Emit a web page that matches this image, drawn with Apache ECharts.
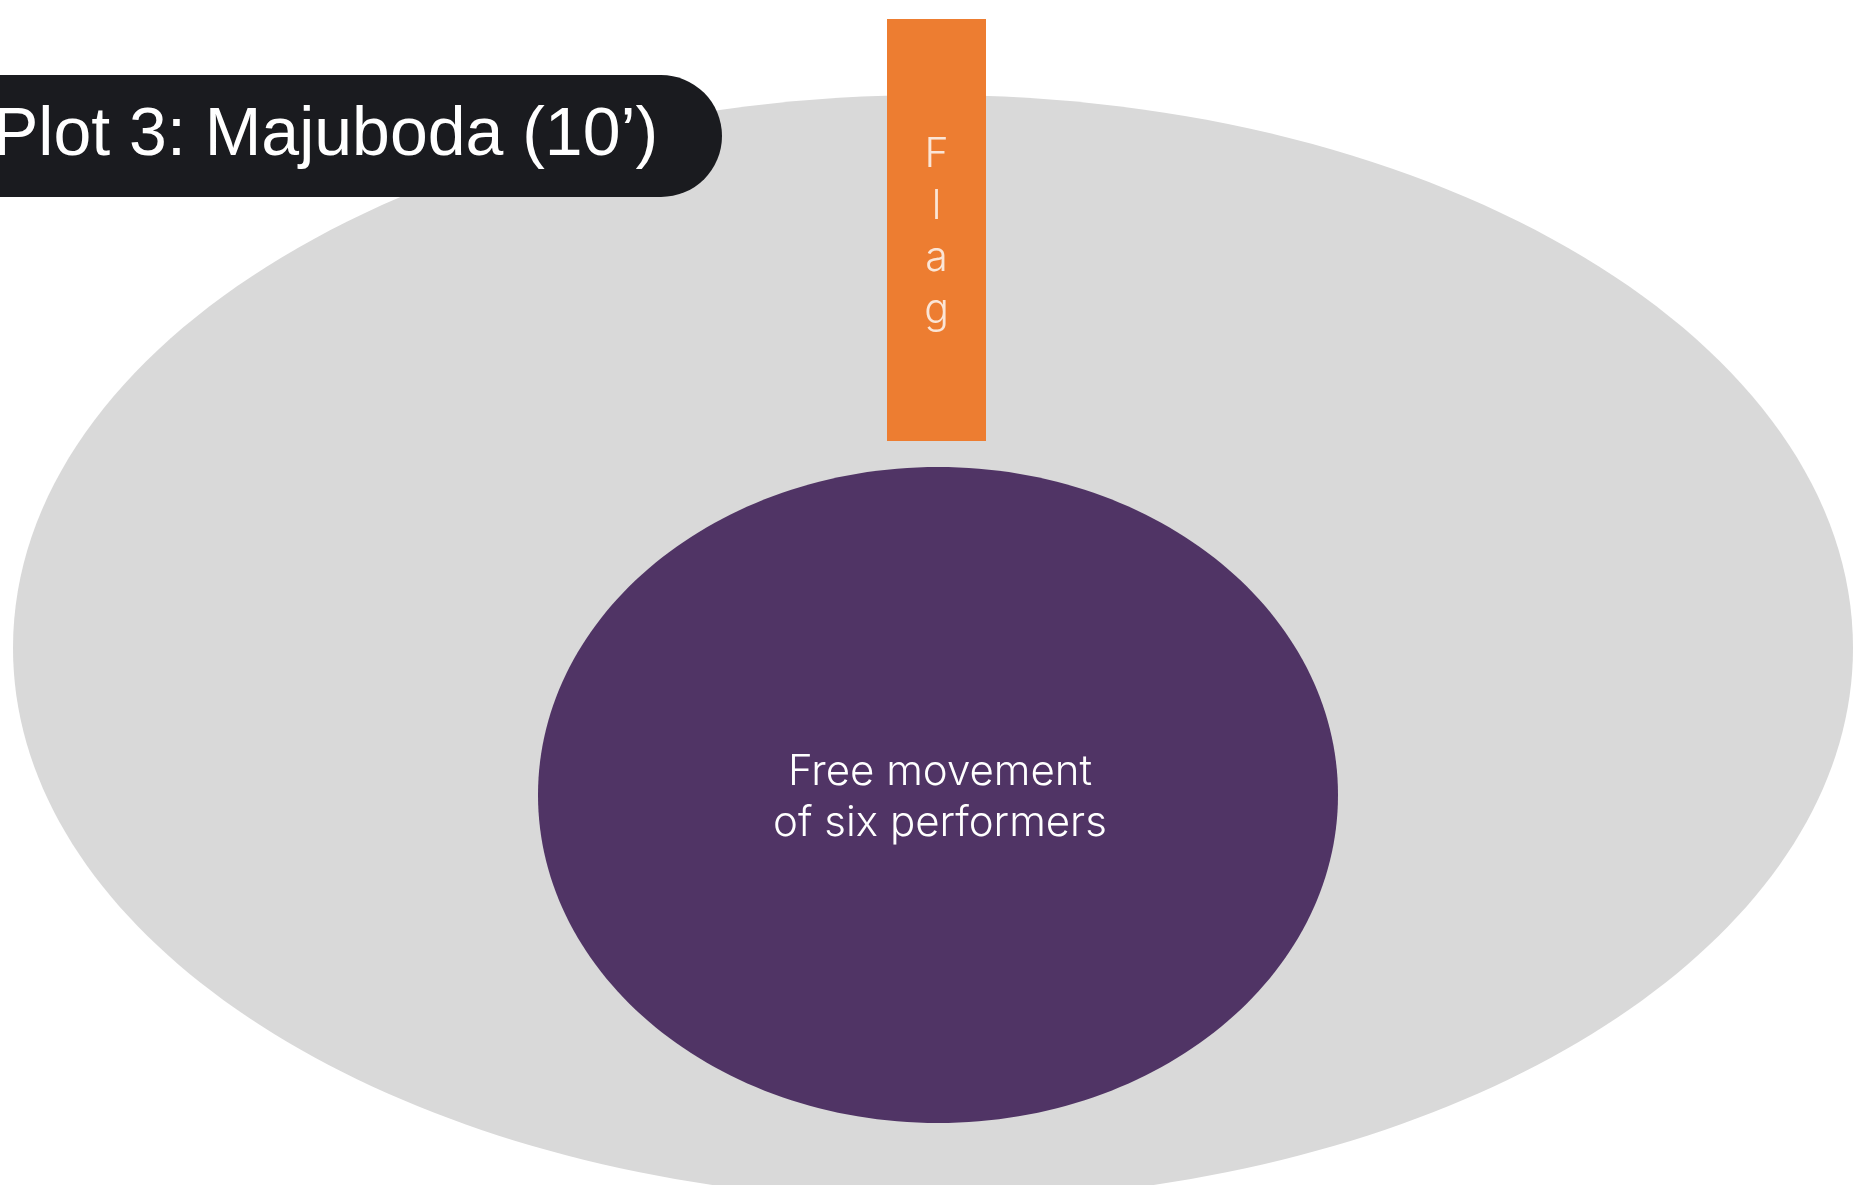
<!DOCTYPE html>
<html>
<head>
<meta charset="utf-8">
<script src="https://cdn.jsdelivr.net/npm/echarts@6/dist/echarts.min.js"></script>
<style>
  html, body { margin: 0; padding: 0; background: #ffffff; }
  #chart { width: 1855px; height: 1185px; }
</style>
</head>
<body>
<div id="chart"></div>
<script>
// ---- Diagram data (in plot units: x 0..1855, y 0..1185 from top) ----
const shapeNames = ['Stage', 'Performers', 'Flag', 'Title'];
const stageEllipse = [933, 648, 920, 553];       // cx, cy, rx, ry
const performerEllipse = [938, 795, 400, 328];   // cx, cy, rx, ry
const flagBox = [887, 19, 986, 441];             // x0, y0, x1, y1
const titleBox = [-80, 75, 722, 197];            // x0, y0, x1, y1
const titleText = 'Plot 3: Majuboda (10’)';
const flagLetters = ['F', 'l', 'a', 'g'];
const performerLines = ['Free movement', 'of six performers'];

const W = 1855, H = 1185;

const chart = echarts.init(document.getElementById('chart'), null, { renderer: 'canvas' });

function renderItem(params, api) {
  const i = params.dataIndex;
  if (i === 0 || i === 1) {
    const e = i === 0 ? stageEllipse : performerEllipse;
    const c = api.coord([e[0], e[1]]);
    const s = api.size([e[2], e[3]]);
    const children = [{
      type: 'ellipse',
      shape: { cx: c[0], cy: c[1], rx: s[0], ry: s[1] },
      style: { fill: i === 0 ? '#D9D9D9' : '#503465' }
    }];
    if (i === 1) {
      children.push({
        type: 'text',
        x: c[0] + 2, y: c[1] + 3,
        style: {
          text: performerLines.join('\n'),
          fill: '#FFFFFF',
          fontFamily: 'Inter, "Liberation Sans", sans-serif',
          fontWeight: 300,
          fontSize: 42,
          lineHeight: 51,
          align: 'center',
          verticalAlign: 'middle'
        }
      });
    }
    return { type: 'group', children: children };
  }
  if (i === 2) {
    const p0 = api.coord([flagBox[0], flagBox[1]]);
    const p1 = api.coord([flagBox[2], flagBox[3]]);
    return {
      type: 'group',
      children: [{
        type: 'rect',
        shape: { x: p0[0], y: p0[1], width: p1[0] - p0[0], height: p1[1] - p0[1] },
        style: { fill: '#ED7D31' }
      }, {
        type: 'text',
        x: (p0[0] + p1[0]) / 2,
        y: p0[1] + 214,
        style: {
          text: flagLetters.join('\n'),
          fill: '#FBE5D6',
          fontFamily: 'Inter, "Liberation Sans", sans-serif',
          fontWeight: 300,
          fontSize: 41,
          lineHeight: 52,
          align: 'center',
          verticalAlign: 'middle'
        }
      }]
    };
  }
  // title pill
  const q0 = api.coord([titleBox[0], titleBox[1]]);
  const q1 = api.coord([titleBox[2], titleBox[3]]);
  const h = q1[1] - q0[1];
  return {
    type: 'group',
    children: [{
      type: 'rect',
      shape: { x: q0[0], y: q0[1], width: q1[0] - q0[0], height: h, r: [0, h / 2, h / 2, 0] },
      style: { fill: '#1A1B1F' }
    }, {
      type: 'text',
      x: -7,
      y: q0[1] + h / 2,
      style: {
        text: titleText,
        fill: '#FFFFFF',
        fontFamily: '"Liberation Sans", Arial, sans-serif',
        fontSize: 68,
        align: 'left',
        verticalAlign: 'middle'
      }
    }]
  };
}

chart.setOption({
  backgroundColor: '#FFFFFF',
  animation: false,
  grid: { left: 0, right: 0, top: 0, bottom: 0 },
  xAxis: { type: 'value', min: 0, max: W, show: false },
  yAxis: { type: 'value', min: 0, max: H, inverse: true, show: false },
  series: [{
    type: 'custom',
    renderItem: renderItem,
    clip: false,
    data: shapeNames.map(function (n, k) { return { name: n, value: [k] }; }),
    encode: { x: -1, y: -1 }
  }]
});
</script>
</body>
</html>
